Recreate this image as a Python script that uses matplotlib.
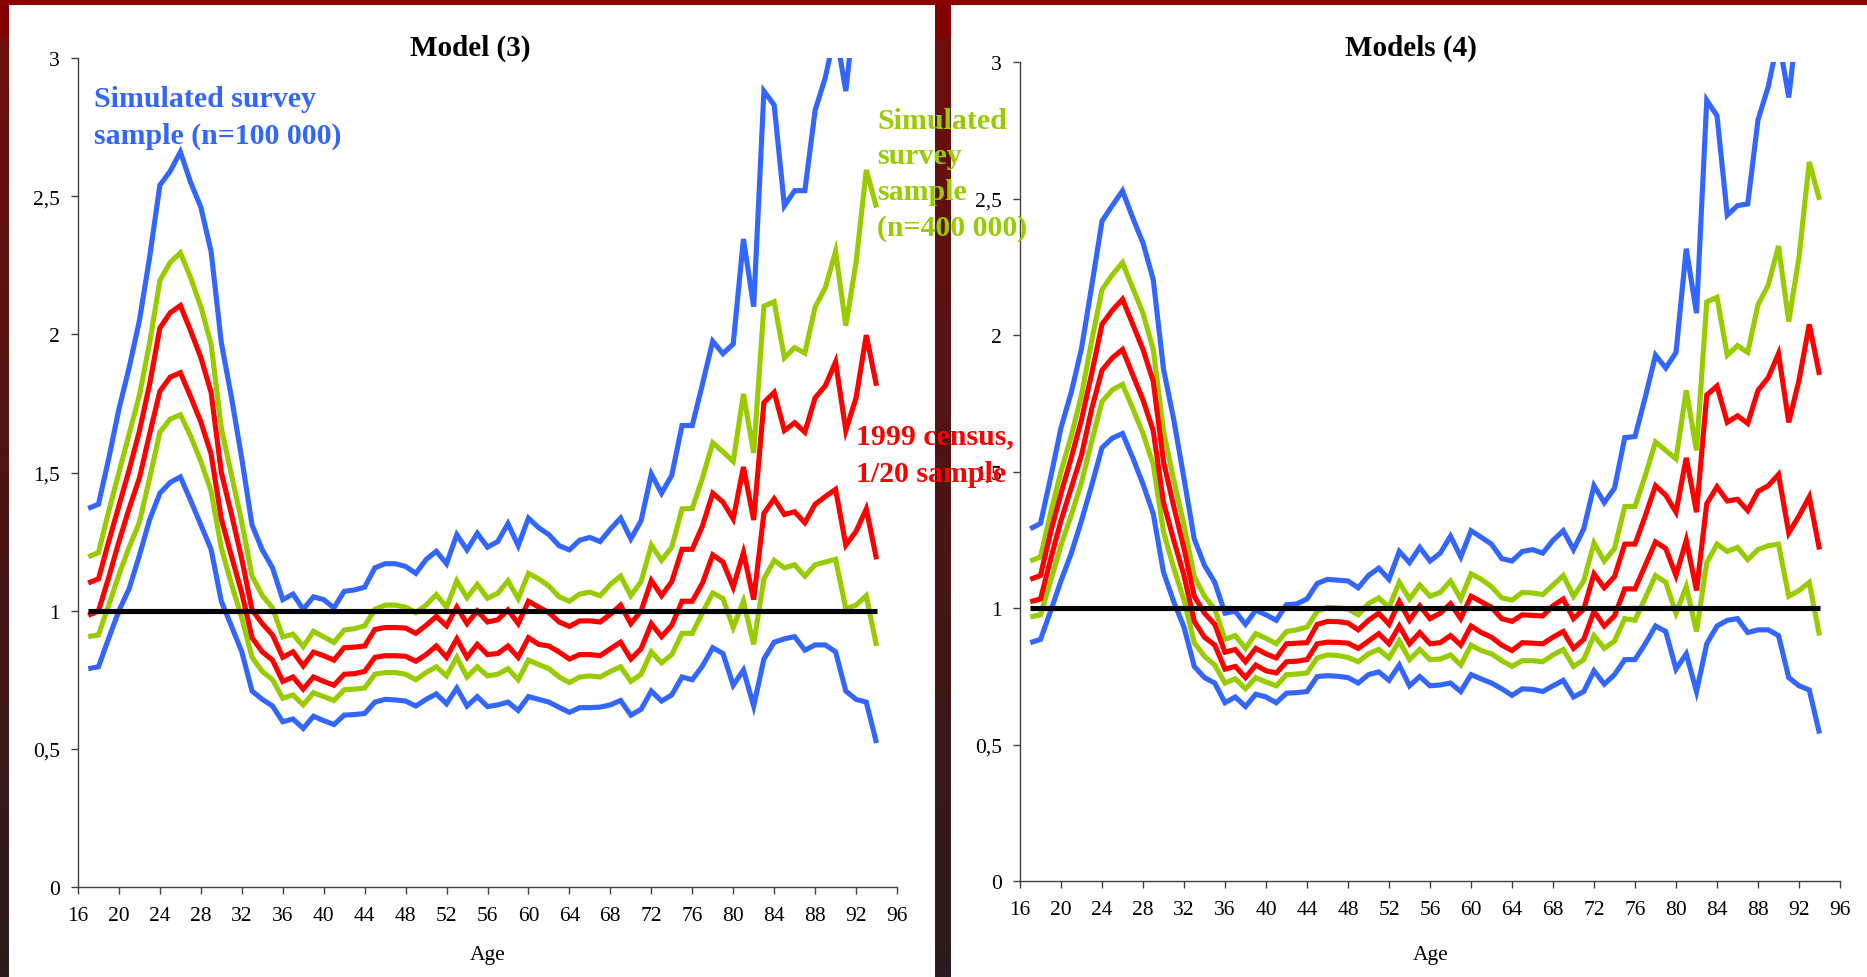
import numpy as np
import matplotlib
matplotlib.use("Agg")
import matplotlib.pyplot as plt
from matplotlib.patches import Rectangle

plt.rcParams['font.family'] = ['Liberation Serif', 'DejaVu Serif']

# ---------------------------------------------------------------- data
ages = list(range(17, 95))

# Model (3): simulated bands around the reference ratio of 1
m3_blue_hi = [1.37, 1.385, 1.55,
              1.73, 1.88, 2.05, 2.28, 2.54, 2.59, 2.66, 2.55, 2.46, 2.30,
              1.97, 1.77, 1.55, 1.31, 1.22, 1.155, 1.04, 1.06, 1.005, 1.05,
              1.04, 1.01, 1.07, 1.075, 1.085, 1.155, 1.17, 1.17, 1.16, 1.135,
              1.185, 1.215, 1.17, 1.275, 1.22, 1.28, 1.23, 1.25, 1.315, 1.235,
              1.335, 1.30, 1.275, 1.235, 1.22, 1.255, 1.265, 1.25, 1.295, 1.335,
              1.26, 1.325, 1.495, 1.425, 1.49, 1.67, 1.67, 1.82, 1.975, 1.93,
              1.965, 2.345, 2.10, 2.88, 2.83, 2.465, 2.52, 2.52, 2.81, 2.93,
              3.10, 2.88, 3.22, 3.35, 3.20]
m3_green_hi = [1.195, 1.21, 1.36,
               1.50, 1.64, 1.78, 1.97, 2.195, 2.26, 2.295, 2.205, 2.10, 1.965,
               1.66, 1.49, 1.32, 1.125, 1.055, 1.01, 0.905, 0.915, 0.87, 0.925,
               0.905, 0.885, 0.93, 0.935, 0.945, 1.005, 1.02, 1.02, 1.013, 0.993,
               1.02, 1.058, 1.013, 1.108, 1.047, 1.095, 1.045, 1.063, 1.108, 1.044,
               1.135, 1.115, 1.089, 1.05, 1.034, 1.06, 1.067, 1.054, 1.095, 1.125,
               1.054, 1.105, 1.237, 1.182, 1.23, 1.368, 1.37, 1.48, 1.607, 1.575,
               1.54, 1.784, 1.571, 2.102, 2.118, 1.915, 1.952, 1.932, 2.098, 2.169,
               2.30, 2.031, 2.26, 2.595, 2.459]
m3_red_hi = [1.10, 1.115, 1.25,
             1.38, 1.51, 1.65, 1.82, 2.023, 2.078, 2.104, 2.013, 1.916, 1.79,
             1.50, 1.348, 1.186, 1.003, 0.953, 0.912, 0.831, 0.851, 0.80, 0.85,
             0.837, 0.821, 0.866, 0.868, 0.872, 0.932, 0.939, 0.939, 0.937, 0.918,
             0.947, 0.979, 0.945, 1.013, 0.953, 0.999, 0.959, 0.967, 1.003, 0.953,
             1.034, 1.013, 0.993, 0.959, 0.943, 0.963, 0.963, 0.959, 0.987, 1.02,
             0.953, 0.999, 1.109, 1.054, 1.105, 1.222, 1.222, 1.307, 1.425, 1.393,
             1.332, 1.52, 1.328, 1.753, 1.79, 1.652, 1.68, 1.646, 1.77, 1.814,
             1.90, 1.652, 1.77, 1.997, 1.814]
m3_red_lo = [0.983, 0.999, 1.12,
             1.25, 1.37, 1.48, 1.64, 1.794, 1.845, 1.861, 1.774, 1.683, 1.567,
             1.332, 1.196, 1.064, 0.902, 0.851, 0.821, 0.744, 0.76, 0.716, 0.76,
             0.744, 0.73, 0.77, 0.772, 0.78, 0.831, 0.837, 0.837, 0.835, 0.817,
             0.841, 0.872, 0.831, 0.898, 0.831, 0.878, 0.841, 0.845, 0.872, 0.831,
             0.902, 0.878, 0.872, 0.85, 0.825, 0.841, 0.841, 0.837, 0.862, 0.886,
             0.825, 0.862, 0.953, 0.906, 0.947, 1.034, 1.034, 1.10, 1.202, 1.176,
             1.085, 1.21, 1.04, 1.352, 1.405, 1.348, 1.358, 1.318, 1.385, 1.413,
             1.439, 1.237, 1.287, 1.368, 1.186]
m3_green_lo = [0.906, 0.912, 1.02,
               1.13, 1.23, 1.32, 1.48, 1.646, 1.693, 1.709, 1.632, 1.54, 1.433,
               1.226, 1.095, 0.973, 0.831, 0.78, 0.75, 0.683, 0.695, 0.659, 0.703,
               0.689, 0.675, 0.714, 0.716, 0.72, 0.77, 0.776, 0.776, 0.77, 0.75,
               0.776, 0.797, 0.764, 0.831, 0.76, 0.797, 0.764, 0.77, 0.79, 0.75,
               0.821, 0.805, 0.79, 0.76, 0.74, 0.76, 0.764, 0.76, 0.78, 0.797,
               0.744, 0.77, 0.851, 0.811, 0.841, 0.918, 0.918, 0.993, 1.064, 1.044,
               0.939, 1.034, 0.878, 1.115, 1.182, 1.155, 1.166, 1.125, 1.166, 1.176,
               1.186, 1.007, 1.02, 1.054, 0.872]
m3_blue_lo = [0.79, 0.797, 0.90,
              1.00, 1.08, 1.20, 1.33, 1.425, 1.464, 1.484, 1.399, 1.31, 1.222,
              1.034, 0.943, 0.851, 0.709, 0.679, 0.655, 0.598, 0.608, 0.574, 0.618,
              0.602, 0.588, 0.622, 0.624, 0.628, 0.669, 0.679, 0.677, 0.673, 0.655,
              0.679, 0.699, 0.663, 0.72, 0.655, 0.689, 0.653, 0.659, 0.669, 0.639,
              0.689, 0.679, 0.669, 0.65, 0.632, 0.649, 0.649, 0.651, 0.659, 0.675,
              0.622, 0.643, 0.709, 0.673, 0.695, 0.76, 0.75, 0.80, 0.866, 0.845,
              0.73, 0.785, 0.655, 0.825, 0.886, 0.898, 0.906, 0.857, 0.876, 0.876,
              0.851, 0.709, 0.679, 0.669, 0.521]

# Models (4)
m4_blue_hi = [1.29, 1.31, 1.48,
              1.66, 1.79, 1.95, 2.18, 2.417, 2.474, 2.528, 2.429, 2.337, 2.203,
              1.875, 1.69, 1.474, 1.253, 1.156, 1.094, 0.981, 0.988, 0.94, 0.992,
              0.975, 0.955, 1.012, 1.015, 1.033, 1.09, 1.105, 1.102, 1.099, 1.074,
              1.119, 1.146, 1.105, 1.207, 1.166, 1.222, 1.172, 1.201, 1.263, 1.187,
              1.283, 1.259, 1.234, 1.181, 1.172, 1.207, 1.214, 1.201, 1.248, 1.283,
              1.214, 1.29, 1.448, 1.386, 1.439, 1.624, 1.628, 1.772, 1.926, 1.879,
              1.936, 2.316, 2.08, 2.86, 2.803, 2.439, 2.474, 2.48, 2.788, 2.91,
              3.09, 2.87, 3.20, 3.30, 3.20]
m4_green_hi = [1.172, 1.187, 1.35,
               1.50, 1.63, 1.78, 1.98, 2.166, 2.22, 2.265, 2.172, 2.08, 1.947,
               1.649, 1.468, 1.304, 1.115, 1.043, 0.996, 0.885, 0.899, 0.852, 0.906,
               0.889, 0.869, 0.914, 0.92, 0.93, 0.988, 1.002, 1.0, 0.996, 0.975,
               1.016, 1.037, 1.002, 1.094, 1.033, 1.084, 1.043, 1.057, 1.099, 1.033,
               1.125, 1.105, 1.078, 1.037, 1.029, 1.057, 1.055, 1.049, 1.084, 1.119,
               1.043, 1.099, 1.238, 1.172, 1.218, 1.372, 1.372, 1.485, 1.608, 1.577,
               1.546, 1.797, 1.577, 2.121, 2.138, 1.926, 1.961, 1.936, 2.111, 2.183,
               2.326, 2.049, 2.285, 2.634, 2.495]
m4_red_hi = [1.105, 1.119, 1.28,
             1.42, 1.55, 1.69, 1.86, 2.039, 2.09, 2.131, 2.039, 1.947, 1.83,
             1.536, 1.372, 1.218, 1.043, 0.981, 0.94, 0.838, 0.848, 0.803, 0.852,
             0.832, 0.817, 0.869, 0.871, 0.873, 0.94, 0.951, 0.95, 0.945, 0.92,
             0.955, 0.981, 0.94, 1.023, 0.955, 1.008, 0.961, 0.981, 1.016, 0.961,
             1.043, 1.023, 1.002, 0.961, 0.951, 0.975, 0.973, 0.971, 1.008, 1.033,
             0.961, 0.996, 1.125, 1.074, 1.115, 1.234, 1.234, 1.337, 1.448, 1.413,
             1.351, 1.55, 1.351, 1.78, 1.813, 1.68, 1.704, 1.676, 1.797, 1.844,
             1.932, 1.68, 1.834, 2.039, 1.854]
m4_red_lo = [1.023, 1.033, 1.18,
             1.32, 1.44, 1.56, 1.73, 1.871, 1.916, 1.947, 1.854, 1.762, 1.649,
             1.386, 1.248, 1.119, 0.951, 0.893, 0.864, 0.776, 0.786, 0.745, 0.791,
             0.77, 0.762, 0.803, 0.805, 0.811, 0.869, 0.875, 0.874, 0.871, 0.852,
             0.879, 0.906, 0.869, 0.934, 0.869, 0.91, 0.869, 0.873, 0.899, 0.864,
             0.934, 0.91, 0.893, 0.864, 0.844, 0.873, 0.871, 0.869, 0.893, 0.914,
             0.852, 0.885, 0.988, 0.934, 0.971, 1.07, 1.07, 1.156, 1.242, 1.218,
             1.119, 1.248, 1.064, 1.382, 1.444, 1.392, 1.398, 1.357, 1.427, 1.448,
             1.489, 1.275, 1.337, 1.407, 1.214]
m4_green_lo = [0.967, 0.975, 1.10,
               1.23, 1.34, 1.46, 1.61, 1.756, 1.799, 1.819, 1.731, 1.639, 1.526,
               1.279, 1.146, 1.029, 0.873, 0.823, 0.791, 0.725, 0.741, 0.704, 0.745,
               0.729, 0.715, 0.756, 0.758, 0.762, 0.817, 0.828, 0.826, 0.819, 0.803,
               0.832, 0.848, 0.817, 0.879, 0.811, 0.848, 0.811, 0.813, 0.828, 0.791,
               0.864, 0.844, 0.832, 0.807, 0.786, 0.807, 0.807, 0.803, 0.828, 0.848,
               0.786, 0.811, 0.899, 0.852, 0.879, 0.961, 0.955, 1.037, 1.119, 1.094,
               0.981, 1.078, 0.914, 1.166, 1.234, 1.207, 1.222, 1.177, 1.214, 1.228,
               1.234, 1.043, 1.064, 1.094, 0.899]
m4_blue_lo = [0.873, 0.885, 0.99,
              1.10, 1.20, 1.32, 1.45, 1.587, 1.622, 1.639, 1.55, 1.454, 1.345,
              1.131, 1.023, 0.93, 0.786, 0.745, 0.725, 0.653, 0.674, 0.639, 0.684,
              0.674, 0.653, 0.688, 0.69, 0.694, 0.749, 0.752, 0.75, 0.745, 0.725,
              0.756, 0.766, 0.735, 0.791, 0.715, 0.749, 0.715, 0.718, 0.725, 0.694,
              0.756, 0.74, 0.725, 0.704, 0.68, 0.704, 0.702, 0.694, 0.715, 0.735,
              0.674, 0.694, 0.77, 0.721, 0.756, 0.811, 0.811, 0.869, 0.934, 0.914,
              0.776, 0.832, 0.694, 0.869, 0.934, 0.955, 0.961, 0.91, 0.92, 0.92,
              0.899, 0.745, 0.715, 0.70, 0.54]

reference_level = 1.0
x_ticks = list(range(16, 97, 4))
y_ticks = [0, 0.5, 1, 1.5, 2, 2.5, 3]
y_tick_labels = ['0', '0,5', '1', '1,5', '2', '2,5', '3']
titles = ['Model (3)', 'Models (4)']
x_label = 'Age'
label_blue = ['Simulated survey', 'sample (n=100 000)']
label_green = ['Simulated', 'survey', 'sample', '(n=400 000)']
label_red = ['1999 census,', '1/20 sample']

# ---------------------------------------------------------------- style
BLUE = '#3366FF'
GREEN = '#99CC00'
RED = '#FF0000'
W, H = 1867, 978
LW = 3.7


def fx(px):
    return px / W


def fy(py):
    return 1 - py / H


fig = plt.figure(figsize=(W / 100, H / 100), dpi=100)

# slide background: dark red gradient with two white panels
bg = fig.add_axes([0, 0, 1, 1], zorder=-10)
bg.set_xlim(0, W)
bg.set_ylim(H, 0)
bg.axis('off')
rows = np.linspace(0, 1, 400)[:, None]
top = np.array([0.45, 0.05, 0.05])
bottom = np.array([0.16, 0.11, 0.11])
grad = top * (1 - rows) + bottom * rows
grad = grad[:, None, :]
bg.imshow(grad, extent=[0, W, H, 0], aspect='auto', interpolation='bilinear')
bg.add_patch(Rectangle((0, 0), W, 38, color='#800000', lw=0))
bg.add_patch(Rectangle((0, 0), W, 6, color='#8B0000', lw=0))
bg.add_patch(Rectangle((9, 6), 935 - 9, H - 6, color='white', lw=0))
bg.add_patch(Rectangle((951, 6), W - 951, H - 6, color='white', lw=0))

panels = [
    dict(rect=[fx(78), fy(888), (897 - 78) / W, (888 - 59) / H],
         series=[(m3_blue_hi, BLUE), (m3_blue_lo, BLUE),
                 (m3_green_hi, GREEN), (m3_green_lo, GREEN),
                 (m3_red_hi, RED), (m3_red_lo, RED)],
         title_xy=(470, 48), xlabel_xy=(488, 956)),
    dict(rect=[fx(1020), fy(882), (1840 - 1020) / W, (882 - 63) / H],
         series=[(m4_blue_hi, BLUE), (m4_blue_lo, BLUE),
                 (m4_green_hi, GREEN), (m4_green_lo, GREEN),
                 (m4_red_hi, RED), (m4_red_lo, RED)],
         title_xy=(1411, 48), xlabel_xy=(1431, 956)),
]

for title, p in zip(titles, panels):
    ax = fig.add_axes(p['rect'])
    ax.set_facecolor('none')
    for values, color in p['series']:
        ax.plot(ages, values, color=color, lw=LW, solid_joinstyle='miter',
                solid_capstyle='butt', zorder=3)
    ax.hlines(reference_level, ages[0], ages[-1], color='black', lw=LW, zorder=4)
    ax.set_xlim(16, 96)
    ax.set_ylim(0, 3)
    ax.set_xticks(x_ticks)
    ax.set_xticklabels([str(t) for t in x_ticks])
    ax.set_yticks(y_ticks)
    ax.set_yticklabels(y_tick_labels)
    for side in ('top', 'right'):
        ax.spines[side].set_visible(False)
    for side in ('left', 'bottom'):
        ax.spines[side].set_color('#404040')
        ax.spines[side].set_linewidth(1.0)
    ax.tick_params(axis='both', direction='out', length=5, width=1,
                   color='#404040', labelsize=15.5, labelcolor='black')
    ax.tick_params(axis='x', pad=9)
    ax.tick_params(axis='y', pad=8)
    tx, ty = p['title_xy']
    fig.text(fx(tx), fy(ty), title, ha='center', va='center',
             fontsize=21, fontweight='bold')
    lx, ly = p['xlabel_xy']
    fig.text(fx(lx), fy(ly), x_label, ha='center', va='center', fontsize=15.5)

# in-chart labels for the three bands
def stacked(lines, x, y0, step, color):
    for i, line in enumerate(lines):
        fig.text(fx(x), fy(y0 + i * step), line, ha='left', va='baseline',
                 fontsize=21.5, fontweight='bold', color=color, zorder=20)


stacked(label_blue, 94, 107, 37, BLUE)
stacked(label_green, 877, 129, 35.5, GREEN)
stacked(label_red, 856, 444, 38, RED)

fig.savefig('out.png', dpi=100)
